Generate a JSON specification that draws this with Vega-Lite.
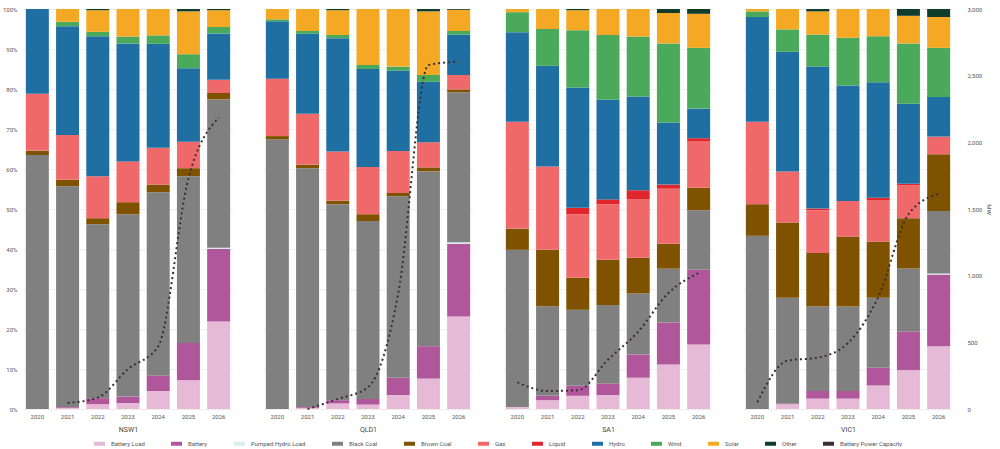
{
  "$schema": "https://vega.github.io/schema/vega-lite/v6.json",
  "background": "white",
  "padding": {"left": 2, "top": 6, "right": 2, "bottom": 2},
  "datasets": {
    "mix": [
      {"r":"NSW1","y":"2020","Battery Load":0,"Battery":0,"Pumped Hydro Load":0,"Black Coal":63.5,"Brown Coal":1.1,"Gas":14.2,"Liquid":0,"Hydro":21.2,"Wind":0,"Solar":0,"Other":0},
      {"r":"NSW1","y":"2021","Battery Load":0.3,"Battery":0.2,"Pumped Hydro Load":0,"Black Coal":55.2,"Brown Coal":1.6,"Gas":11.2,"Liquid":0,"Hydro":27.2,"Wind":1.1,"Solar":3.2,"Other":0},
      {"r":"NSW1","y":"2022","Battery Load":1.2,"Battery":1.5,"Pumped Hydro Load":0,"Black Coal":43.5,"Brown Coal":1.5,"Gas":10.5,"Liquid":0,"Hydro":35,"Wind":1.1,"Solar":5.4,"Other":0.3},
      {"r":"NSW1","y":"2023","Battery Load":1.5,"Battery":1.6,"Pumped Hydro Load":0,"Black Coal":45.6,"Brown Coal":3,"Gas":10.2,"Liquid":0,"Hydro":29.5,"Wind":1.7,"Solar":6.9,"Other":0},
      {"r":"NSW1","y":"2024","Battery Load":4.5,"Battery":3.9,"Pumped Hydro Load":0,"Black Coal":45.8,"Brown Coal":1.9,"Gas":9.2,"Liquid":0,"Hydro":26,"Wind":2.1,"Solar":6.6,"Other":0},
      {"r":"NSW1","y":"2025","Battery Load":7.2,"Battery":9.3,"Pumped Hydro Load":0,"Black Coal":41.7,"Brown Coal":2,"Gas":6.6,"Liquid":0,"Hydro":18.4,"Wind":3.5,"Solar":10.7,"Other":0.6},
      {"r":"NSW1","y":"2026","Battery Load":21.9,"Battery":18.1,"Pumped Hydro Load":0.3,"Black Coal":37.1,"Brown Coal":1.6,"Gas":3.3,"Liquid":0,"Hydro":11.6,"Wind":1.6,"Solar":4.2,"Other":0.3},
      {"r":"QLD1","y":"2020","Battery Load":0,"Battery":0,"Pumped Hydro Load":0,"Black Coal":67.7,"Brown Coal":0.8,"Gas":14.4,"Liquid":0,"Hydro":14.4,"Wind":0.5,"Solar":2.6,"Other":0},
      {"r":"QLD1","y":"2021","Battery Load":0.3,"Battery":0.2,"Pumped Hydro Load":0,"Black Coal":59.7,"Brown Coal":0.9,"Gas":12.7,"Liquid":0,"Hydro":20,"Wind":0.7,"Solar":5.5,"Other":0},
      {"r":"QLD1","y":"2022","Battery Load":1.4,"Battery":0.8,"Pumped Hydro Load":0,"Black Coal":49,"Brown Coal":0.9,"Gas":12.3,"Liquid":0,"Hydro":28.3,"Wind":0.8,"Solar":6.2,"Other":0.3},
      {"r":"QLD1","y":"2023","Battery Load":1.1,"Battery":1.4,"Pumped Hydro Load":0,"Black Coal":44.5,"Brown Coal":1.7,"Gas":11.8,"Liquid":0,"Hydro":24.5,"Wind":1,"Solar":14,"Other":0},
      {"r":"QLD1","y":"2024","Battery Load":3.5,"Battery":4.3,"Pumped Hydro Load":0,"Black Coal":45.4,"Brown Coal":0.8,"Gas":10.5,"Liquid":0,"Hydro":20.1,"Wind":1,"Solar":14.4,"Other":0},
      {"r":"QLD1","y":"2025","Battery Load":7.6,"Battery":8.1,"Pumped Hydro Load":0,"Black Coal":43.7,"Brown Coal":1,"Gas":6.3,"Liquid":0,"Hydro":15.1,"Wind":1.7,"Solar":15.9,"Other":0.6},
      {"r":"QLD1","y":"2026","Battery Load":23.1,"Battery":18.2,"Pumped Hydro Load":0.4,"Black Coal":37.5,"Brown Coal":0.7,"Gas":3.6,"Liquid":0,"Hydro":10.1,"Wind":0.9,"Solar":5.3,"Other":0.2},
      {"r":"SA1","y":"2020","Battery Load":0.5,"Battery":0,"Pumped Hydro Load":0,"Black Coal":39.3,"Brown Coal":5.3,"Gas":26.7,"Liquid":0,"Hydro":22.4,"Wind":5,"Solar":0.8,"Other":0},
      {"r":"SA1","y":"2021","Battery Load":2.2,"Battery":1.1,"Pumped Hydro Load":0,"Black Coal":22.4,"Brown Coal":14.1,"Gas":20.8,"Liquid":0,"Hydro":25.2,"Wind":9.2,"Solar":5,"Other":0},
      {"r":"SA1","y":"2022","Battery Load":3.3,"Battery":2.5,"Pumped Hydro Load":0,"Black Coal":19,"Brown Coal":8,"Gas":15.9,"Liquid":1.6,"Hydro":30.1,"Wind":14.3,"Solar":5,"Other":0.3},
      {"r":"SA1","y":"2023","Battery Load":3.5,"Battery":2.9,"Pumped Hydro Load":0,"Black Coal":19.6,"Brown Coal":11.3,"Gas":13.9,"Liquid":1.2,"Hydro":25,"Wind":16.1,"Solar":6.5,"Other":0},
      {"r":"SA1","y":"2024","Battery Load":7.8,"Battery":5.8,"Pumped Hydro Load":0,"Black Coal":15.3,"Brown Coal":8.9,"Gas":14.6,"Liquid":2.3,"Hydro":23.4,"Wind":15,"Solar":6.9,"Other":0},
      {"r":"SA1","y":"2025","Battery Load":11.1,"Battery":10.5,"Pumped Hydro Load":0,"Black Coal":13.5,"Brown Coal":6.2,"Gas":13.8,"Liquid":1,"Hydro":15.5,"Wind":19.8,"Solar":7.6,"Other":1},
      {"r":"SA1","y":"2026","Battery Load":16.1,"Battery":18.7,"Pumped Hydro Load":0,"Black Coal":14.9,"Brown Coal":5.6,"Gas":11.7,"Liquid":0.7,"Hydro":7.4,"Wind":15.2,"Solar":8.5,"Other":1.2},
      {"r":"VIC1","y":"2020","Battery Load":0,"Battery":0,"Pumped Hydro Load":0,"Black Coal":43.3,"Brown Coal":7.9,"Gas":20.6,"Liquid":0,"Hydro":26.2,"Wind":1.4,"Solar":0.6,"Other":0},
      {"r":"VIC1","y":"2021","Battery Load":1.2,"Battery":0.2,"Pumped Hydro Load":0,"Black Coal":26.4,"Brown Coal":18.8,"Gas":12.8,"Liquid":0,"Hydro":29.9,"Wind":5.6,"Solar":5.1,"Other":0},
      {"r":"VIC1","y":"2022","Battery Load":2.6,"Battery":1.9,"Pumped Hydro Load":0,"Black Coal":21.1,"Brown Coal":13.4,"Gas":10.7,"Liquid":0.4,"Hydro":35.5,"Wind":8,"Solar":5.8,"Other":0.6},
      {"r":"VIC1","y":"2023","Battery Load":2.6,"Battery":1.9,"Pumped Hydro Load":0,"Black Coal":21.1,"Brown Coal":17.5,"Gas":8.9,"Liquid":0,"Hydro":28.9,"Wind":11.9,"Solar":7.2,"Other":0},
      {"r":"VIC1","y":"2024","Battery Load":5.9,"Battery":4.4,"Pumped Hydro Load":0,"Black Coal":17.5,"Brown Coal":14.1,"Gas":10.2,"Liquid":0.7,"Hydro":28.9,"Wind":11.5,"Solar":6.8,"Other":0},
      {"r":"VIC1","y":"2025","Battery Load":9.7,"Battery":9.7,"Pumped Hydro Load":0,"Black Coal":15.7,"Brown Coal":12.6,"Gas":8.2,"Liquid":0.4,"Hydro":20,"Wind":15.1,"Solar":6.9,"Other":1.7},
      {"r":"VIC1","y":"2026","Battery Load":15.7,"Battery":17.9,"Pumped Hydro Load":0.3,"Black Coal":15.6,"Brown Coal":14.2,"Gas":4.4,"Liquid":0,"Hydro":9.9,"Wind":12.3,"Solar":7.7,"Other":2}
    ],
    "cap": [
      {"r":"NSW1","y":"2021","mw":45},{"r":"NSW1","y":"2022","mw":85},{"r":"NSW1","y":"2023","mw":300},
      {"r":"NSW1","y":"2024","mw":470},{"r":"NSW1","y":"2025","mw":1730},{"r":"NSW1","y":"2026","mw":2185},
      {"r":"QLD1","y":"2021","mw":0},{"r":"QLD1","y":"2022","mw":75},{"r":"QLD1","y":"2023","mw":163},
      {"r":"QLD1","y":"2024","mw":865},{"r":"QLD1","y":"2025","mw":2580},{"r":"QLD1","y":"2026","mw":2605},
      {"r":"SA1","y":"2020","mw":200},{"r":"SA1","y":"2021","mw":135},{"r":"SA1","y":"2022","mw":140},
      {"r":"SA1","y":"2023","mw":370},{"r":"SA1","y":"2024","mw":580},{"r":"SA1","y":"2025","mw":870},{"r":"SA1","y":"2026","mw":1020},
      {"r":"VIC1","y":"2020","mw":50},{"r":"VIC1","y":"2021","mw":363},{"r":"VIC1","y":"2022","mw":385},
      {"r":"VIC1","y":"2023","mw":495},{"r":"VIC1","y":"2024","mw":840},{"r":"VIC1","y":"2025","mw":1460},{"r":"VIC1","y":"2026","mw":1615}
    ]
  },
  "hconcat": [
    {
      "width": 210, "height": 400,
      "layer": [
        {
          "data": {"name": "mix"},
          "transform": [
            {"filter": "datum.r == 'NSW1'"},
            {"fold": ["Battery Load","Battery","Pumped Hydro Load","Black Coal","Brown Coal","Gas","Liquid","Hydro","Wind","Solar","Other"], "as": ["f","v"]},
            {"window": [{"op": "row_number", "as": "i"}], "groupby": ["y"]}
          ],
          "mark": {"type": "bar", "width": 23},
          "encoding": {
            "x": {"field": "y", "type": "ordinal", "axis": {"title": "NSW1"}},
            "y": {"field": "v", "type": "quantitative", "stack": "normalize",
                  "axis": {"format": ".0%", "tickCount": 10, "title": null, "domain": false, "ticks": false, "labelPadding": 6}},
            "order": {"field": "i", "type": "quantitative"},
            "color": {"field": "f", "type": "nominal",
                      "scale": {"domain": ["Battery Load","Battery","Pumped Hydro Load","Black Coal","Brown Coal","Gas","Liquid","Hydro","Wind","Solar","Other","Battery Power Capacity"]}}
          }
        },
        {
          "data": {"name": "cap"},
          "transform": [{"filter": "datum.r == 'NSW1'"}],
          "mark": {"type": "line", "interpolate": "monotone", "strokeDash": [2, 3], "strokeWidth": 2},
          "encoding": {
            "x": {"field": "y", "type": "ordinal"},
            "y": {"field": "mw", "type": "quantitative", "scale": {"domain": [0, 3000]}, "axis": null},
            "color": {"datum": "Battery Power Capacity"}
          }
        }
      ],
      "resolve": {"scale": {"y": "independent"}}
    },
    {
      "width": 210, "height": 400,
      "layer": [
        {
          "data": {"name": "mix"},
          "transform": [
            {"filter": "datum.r == 'QLD1'"},
            {"fold": ["Battery Load","Battery","Pumped Hydro Load","Black Coal","Brown Coal","Gas","Liquid","Hydro","Wind","Solar","Other"], "as": ["f","v"]},
            {"window": [{"op": "row_number", "as": "i"}], "groupby": ["y"]}
          ],
          "mark": {"type": "bar", "width": 23},
          "encoding": {
            "x": {"field": "y", "type": "ordinal", "axis": {"title": "QLD1"}},
            "y": {"field": "v", "type": "quantitative", "stack": "normalize",
                  "axis": {"labels": false, "tickCount": 10, "title": null, "domain": false, "ticks": false}},
            "order": {"field": "i", "type": "quantitative"},
            "color": {"field": "f", "type": "nominal"}
          }
        },
        {
          "data": {"name": "cap"},
          "transform": [{"filter": "datum.r == 'QLD1'"}],
          "mark": {"type": "line", "interpolate": "monotone", "strokeDash": [2, 3], "strokeWidth": 2},
          "encoding": {
            "x": {"field": "y", "type": "ordinal"},
            "y": {"field": "mw", "type": "quantitative", "scale": {"domain": [0, 3000]}, "axis": null},
            "color": {"datum": "Battery Power Capacity"}
          }
        }
      ],
      "resolve": {"scale": {"y": "independent"}}
    },
    {
      "width": 210, "height": 400,
      "layer": [
        {
          "data": {"name": "mix"},
          "transform": [
            {"filter": "datum.r == 'SA1'"},
            {"fold": ["Battery Load","Battery","Pumped Hydro Load","Black Coal","Brown Coal","Gas","Liquid","Hydro","Wind","Solar","Other"], "as": ["f","v"]},
            {"window": [{"op": "row_number", "as": "i"}], "groupby": ["y"]}
          ],
          "mark": {"type": "bar", "width": 23},
          "encoding": {
            "x": {"field": "y", "type": "ordinal", "axis": {"title": "SA1"}},
            "y": {"field": "v", "type": "quantitative", "stack": "normalize",
                  "axis": {"labels": false, "tickCount": 10, "title": null, "domain": false, "ticks": false}},
            "order": {"field": "i", "type": "quantitative"},
            "color": {"field": "f", "type": "nominal"}
          }
        },
        {
          "data": {"name": "cap"},
          "transform": [{"filter": "datum.r == 'SA1'"}],
          "mark": {"type": "line", "interpolate": "monotone", "strokeDash": [2, 3], "strokeWidth": 2},
          "encoding": {
            "x": {"field": "y", "type": "ordinal"},
            "y": {"field": "mw", "type": "quantitative", "scale": {"domain": [0, 3000]}, "axis": null},
            "color": {"datum": "Battery Power Capacity"}
          }
        }
      ],
      "resolve": {"scale": {"y": "independent"}}
    },
    {
      "width": 210, "height": 400,
      "layer": [
        {
          "data": {"name": "mix"},
          "transform": [
            {"filter": "datum.r == 'VIC1'"},
            {"fold": ["Battery Load","Battery","Pumped Hydro Load","Black Coal","Brown Coal","Gas","Liquid","Hydro","Wind","Solar","Other"], "as": ["f","v"]},
            {"window": [{"op": "row_number", "as": "i"}], "groupby": ["y"]}
          ],
          "mark": {"type": "bar", "width": 23},
          "encoding": {
            "x": {"field": "y", "type": "ordinal", "axis": {"title": "VIC1"}},
            "y": {"field": "v", "type": "quantitative", "stack": "normalize",
                  "axis": {"labels": false, "tickCount": 10, "title": null, "domain": false, "ticks": false}},
            "order": {"field": "i", "type": "quantitative"},
            "color": {"field": "f", "type": "nominal"}
          }
        },
        {
          "data": {"name": "cap"},
          "transform": [{"filter": "datum.r == 'VIC1'"}],
          "mark": {"type": "line", "interpolate": "monotone", "strokeDash": [2, 3], "strokeWidth": 2},
          "encoding": {
            "x": {"field": "y", "type": "ordinal"},
            "y": {"field": "mw", "type": "quantitative", "scale": {"domain": [0, 3000]},
                  "axis": {"orient": "right", "values": [0, 500, 1000, 1500, 2000, 2500, 3000], "format": ",.0f", "title": "MW",
                           "grid": false, "domain": false, "ticks": false, "labelPadding": 14, "titleFontSize": 6, "titleFontWeight": "normal"}},
            "color": {"datum": "Battery Power Capacity"}
          }
        }
      ],
      "resolve": {"scale": {"y": "independent"}}
    }
  ],
  "spacing": 30,
  "resolve": {"scale": {"color": "shared"}},
  "config": {
    "font": "Roboto",
    "view": {"stroke": null},
    "scale": {"bandPaddingInner": 0.25, "bandPaddingOuter": 0.1},
    "range": {
      "category": ["#e6b9d6", "#b0579c", "#d9eeec", "#808080", "#7f5200", "#f0696a", "#e0262a", "#1f6fa3", "#4aa95a", "#f5a823", "#103d2b", "#3a2f33"]
    },
    "axis": {"labelFontSize": 6, "labelColor": "#555", "gridColor": "#eeeeee", "titleFontSize": 7, "titleFontWeight": "normal", "titleColor": "#444"},
    "axisX": {"labelAngle": 0, "domain": false, "ticks": false, "grid": false, "titlePadding": 6, "labelPadding": 4},
    "legend": {
      "orient": "bottom", "direction": "horizontal", "title": null, "labelFontSize": 6, "labelColor": "#555",
      "symbolType": "stroke", "symbolStrokeWidth": 4, "symbolSize": 120, "columnPadding": 18, "offset": 4,
      "layout": {"bottom": {"anchor": "middle"}}
    }
  }
}
